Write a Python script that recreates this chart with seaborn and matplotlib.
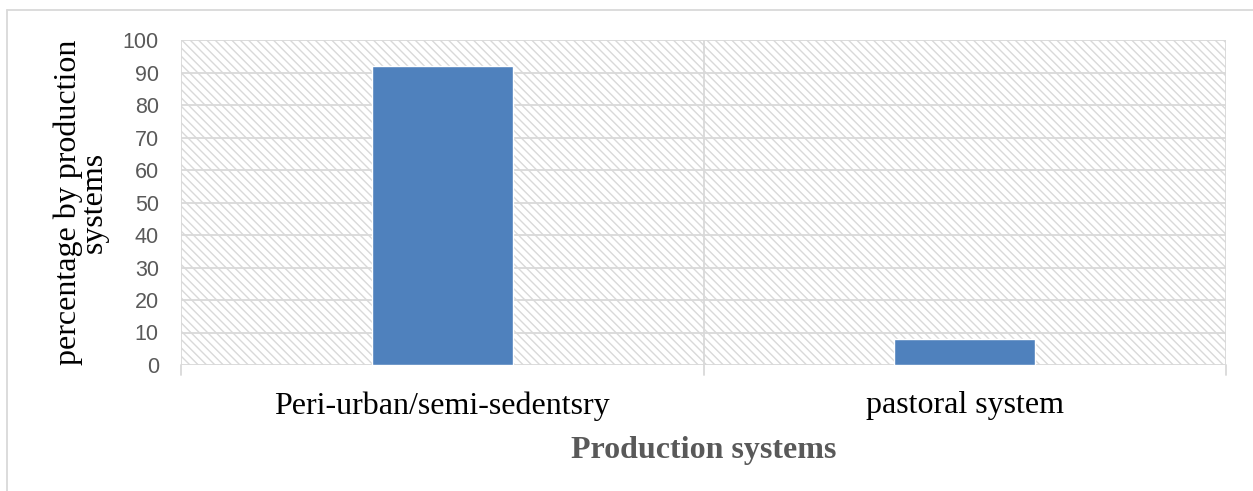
import matplotlib
matplotlib.use("Agg")
import matplotlib.pyplot as plt
import seaborn as sns
import pandas as pd
from matplotlib.patches import Rectangle

# Share of animals by production system
systems = ["Peri-urban/semi-sedentsry", "pastoral system"]
percentages = [92, 8]
y_ticks = [0, 10, 20, 30, 40, 50, 60, 70, 80, 90, 100]

df = pd.DataFrame({"system": systems, "percentage": percentages})

sns.set_theme(style="white")
plt.rcParams["hatch.color"] = "#dedede"
plt.rcParams["hatch.linewidth"] = 1.0

grid_c = "#d9d9d9"
bar_c = "#4F81BD"

fig = plt.figure(figsize=(12.53, 4.91), dpi=100)
ax = fig.add_axes([181 / 1253, 1 - 365 / 491, (1226 - 181) / 1253, (365 - 40) / 491])

# hatched plot background
ax.add_patch(Rectangle((0, 0), 1, 1, transform=ax.transAxes, facecolor="white",
                       edgecolor=grid_c, hatch="\\\\\\\\", linewidth=0, zorder=0))

sns.barplot(data=df, x="system", y="percentage", color=bar_c, saturation=1,
            width=0.27, ax=ax, zorder=3)

ax.set_xlim(-0.5, 1.5)
ax.set_ylim(0, 100)
ax.set_yticks(y_ticks)
for y in y_ticks:
    ax.axhline(y, color=grid_c, lw=1.3, zorder=1)
for x in [-0.5, 0.5, 1.5]:
    ax.axvline(x, color=grid_c, lw=1.3, zorder=1)
    ax.plot([x, x], [0, -3], color=grid_c, lw=1.3, clip_on=False, zorder=1)

for s in ax.spines.values():
    s.set_visible(False)

ax.tick_params(axis="y", length=0, pad=16, labelsize=15.5, labelcolor="#595959")
ax.tick_params(axis="x", length=0, pad=19, labelsize=23, labelcolor="black")
for t in ax.get_yticklabels():
    t.set_fontfamily("Liberation Sans")
for t in ax.get_xticklabels():
    t.set_fontfamily("Liberation Serif")

ax.set_ylabel("percentage by production\nsystems", fontsize=23, family="Liberation Serif",
              color="black", labelpad=10, linespacing=0.85)
ax.set_xlabel("Production systems", fontsize=23, family="Liberation Serif",
              fontweight="bold", color="#595959", labelpad=11)

# outer frame lines
fig.add_artist(plt.Line2D([7 / 1253, 1], [1 - 10 / 491, 1 - 10 / 491],
                          transform=fig.transFigure, color=grid_c, lw=1.3))
fig.add_artist(plt.Line2D([7 / 1253, 7 / 1253], [0, 1 - 10 / 491],
                          transform=fig.transFigure, color=grid_c, lw=1.3))

fig.savefig("out.png", dpi=100)
